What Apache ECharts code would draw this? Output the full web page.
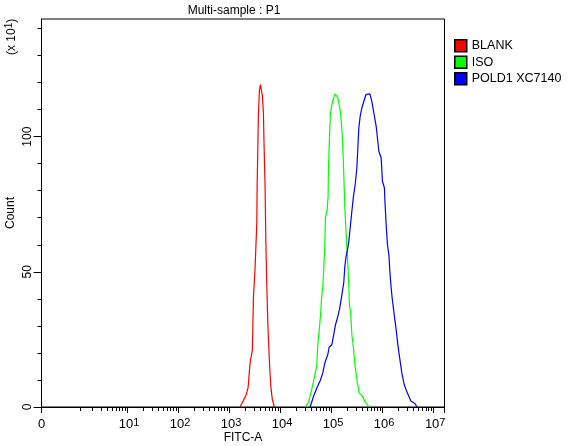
<!DOCTYPE html>
<html><head><meta charset="utf-8">
<style>html,body{margin:0;padding:0;background:#fff}#c{width:581px;height:446px}</style>
<script src="https://cdn.jsdelivr.net/npm/echarts@6/dist/echarts.min.js"></script></head>
<body><div id="c"></div>
<script>
// x is the log10 decade of FITC-A, y is Count (x 10^1)
const seriesNames = ['BLANK', 'ISO', 'POLD1 XC7140'];
const seriesColors = ['#ff0000', '#00ff00', '#0000ff'];
const blank = [[3.206,0],[3.324,4.4],[3.363,7.2],[3.402,16.4],[3.447,21],[3.467,40.4],[3.5,51.5],[3.533,68],[3.54,82],[3.553,95],[3.565,108],[3.585,117],[3.604,119.2],[3.624,119.6],[3.643,115.2],[3.663,108.5],[3.676,96.7],[3.696,81.1],[3.71,61.9],[3.729,44.9],[3.749,31.2],[3.775,19.3],[3.794,12],[3.814,6.4],[3.839,2.7],[3.878,0]];
const iso = [[4.48,0],[4.545,1.5],[4.598,5.6],[4.643,9.3],[4.682,12.6],[4.71,15.7],[4.729,23],[4.761,29.2],[4.788,35.3],[4.8,39.7],[4.827,44.6],[4.847,51.2],[4.867,60],[4.878,69.9],[4.912,72.9],[4.931,77.8],[4.937,87.2],[4.957,99.5],[4.976,108.4],[5.004,111.6],[5.035,114],[5.069,115.8],[5.102,116.5],[5.122,114.3],[5.147,111.8],[5.173,109.1],[5.192,104.7],[5.212,99.5],[5.231,90.2],[5.245,82.2],[5.259,73.6],[5.278,66.2],[5.298,59.4],[5.318,52.7],[5.337,44.6],[5.349,37.9],[5.376,34.2],[5.396,26.8],[5.427,21.9],[5.455,15.7],[5.494,10.2],[5.539,5.2],[5.604,3.9],[5.657,1.9],[5.735,0]];
const pold1 = [[4.578,0],[4.643,3.8],[4.71,7],[4.775,9.7],[4.827,12.6],[4.867,16.3],[4.925,19.4],[4.951,22.1],[5.004,23],[5.035,26.1],[5.075,30.4],[5.114,32.9],[5.153,36],[5.18,39],[5.206,42.1],[5.239,46.2],[5.259,52],[5.284,55.7],[5.31,58.2],[5.337,61.2],[5.363,66.2],[5.396,72.3],[5.427,77.8],[5.461,82.2],[5.494,88.3],[5.514,95.8],[5.533,103.2],[5.559,107.5],[5.592,110.6],[5.631,113],[5.671,115.5],[5.71,116.1],[5.749,115.8],[5.788,113],[5.833,108.1],[5.873,103.8],[5.898,99.5],[5.925,94.6],[5.971,92.1],[5.996,83.5],[6.035,81],[6.043,76.7],[6.069,67.4],[6.094,60],[6.122,56.3],[6.141,50.2],[6.161,45.3],[6.186,40.3],[6.231,33.5],[6.265,28.6],[6.298,23],[6.343,16.9],[6.376,12.6],[6.422,8.3],[6.475,5.6],[6.553,2.2],[6.637,1.2],[6.671,0]];
const xMin = -0.686, xMax = 7.212, yMin = 0, yMax = 143.5;
const xMajor = [-0.686, 1, 2, 3, 4, 5, 6, 7, 7.212];
const xLabelTicks = [-0.686, 1, 2, 3, 4, 5, 6, 7];
const xMinor = [0.082,0.301,0.477,0.602,0.699,0.778,0.845,0.903,0.954,
 1.301,1.477,1.602,1.699,1.778,1.845,1.903,1.954,2.301,2.477,2.602,2.699,2.778,2.845,2.903,2.954,
 3.301,3.477,3.602,3.699,3.778,3.845,3.903,3.954,4.301,4.477,4.602,4.699,4.778,4.845,4.903,4.954,
 5.301,5.477,5.602,5.699,5.778,5.845,5.903,5.954,6.301,6.477,6.602,6.699,6.778,6.845,6.903,6.954];
const yMajor = [0, 50, 100];
const yMinor = [10,20,30,40,60,70,80,90,110,120,130,140];
const FONT = '"Liberation Sans", Arial, sans-serif';
const black = '#000';

const chart = echarts.init(document.getElementById('c'), null, {renderer:'canvas'});
const grid = {left:41.5, right:136.5, top:19, bottom:39, show:true, borderColor:black, borderWidth:1, backgroundColor:'transparent', outerBoundsMode:'none', containLabel:false};
const hiddenLine = {show:false, onZero:false};
chart.setOption({
  animation:false,
  backgroundColor:'#fff',
  title:{text:'Multi-sample : P1', left:234, top:5, padding:0, textAlign:'center',
    textStyle:{fontFamily:FONT,fontSize:12,fontWeight:'normal',color:black}},
  legend:{left:454,top:39,orient:'vertical',padding:0,itemGap:3,itemWidth:12,itemHeight:12,icon:'rect',
    data:seriesNames,selectedMode:false,
    itemStyle:{borderColor:black,borderWidth:1.5},
    textStyle:{fontFamily:FONT,fontSize:12.5,color:black}},
  grid,
  xAxis:[{
    type:'value',min:xMin,max:xMax,
    name:'FITC-A',nameLocation:'middle',nameGap:25,nameMoveOverlap:false,
    nameTextStyle:{fontFamily:FONT,fontSize:12,color:black},
    axisLine:{show:true,onZero:false,lineStyle:{color:black,width:1}},
    splitLine:{show:false},
    axisTick:{show:true,length:6,customValues:xMajor,lineStyle:{color:black,width:1}},
    axisLabel:{show:true,customValues:xLabelTicks,margin:10,color:black,fontFamily:FONT,hideOverlap:false,
      formatter:v=>v<0?'{b|0}':'{p|}{b|10}{s|'+Math.round(v)+'}',
      rich:{p:{width:3,fontSize:13,lineHeight:14},
            b:{fontFamily:FONT,fontSize:13,color:black,verticalAlign:'bottom',lineHeight:14},
            s:{fontFamily:FONT,fontSize:11,color:black,verticalAlign:'top',lineHeight:14,padding:[0,0,8,0]}}}
  },{
    type:'value',min:xMin,max:xMax,position:'bottom',offset:0,
    axisLine:hiddenLine,splitLine:{show:false},axisLabel:{show:false},
    axisTick:{show:true,length:4,customValues:xMinor,lineStyle:{color:black,width:1}}
  }],
  yAxis:[{
    type:'value',min:yMin,max:yMax,
    name:'Count',nameLocation:'middle',nameGap:25,nameMoveOverlap:false,
    nameTextStyle:{fontFamily:FONT,fontSize:12,color:black},
    axisLine:{show:true,onZero:false,lineStyle:{color:black,width:1}},
    splitLine:{show:false},
    axisTick:{show:true,length:8,customValues:yMajor,lineStyle:{color:black,width:1}},
    axisLabel:{show:true,customValues:yMajor,rotate:90,margin:8,color:black,fontFamily:FONT,fontSize:12}
  },{
    type:'value',min:yMin,max:yMax,position:'left',offset:0,
    axisLine:hiddenLine,splitLine:{show:false},axisLabel:{show:false},
    axisTick:{show:true,length:4,customValues:yMinor,lineStyle:{color:black,width:1}}
  }],
  graphic:[
    {type:'text',x:12,y:55,rotation:Math.PI/2,
     style:{rich:{n:{fontFamily:FONT,fontSize:12,fill:black},s:{fontFamily:FONT,fontSize:10,fill:black,verticalAlign:'top',padding:[0,0,5,0]}},
       text:'{n|(x 10}{s|1}{n|)}',fill:black,align:'left',verticalAlign:'middle'}}
  ],
  series:[blank,iso,pold1].map((d,i)=>({
    name:seriesNames[i],type:'line',data:d,xAxisIndex:0,yAxisIndex:0,
    showSymbol:false,symbol:'none',silent:true,smooth:false,
    lineStyle:{color:seriesColors[i],width:1.2},
    itemStyle:{color:seriesColors[i]}
  }))
});
</script></body></html>
